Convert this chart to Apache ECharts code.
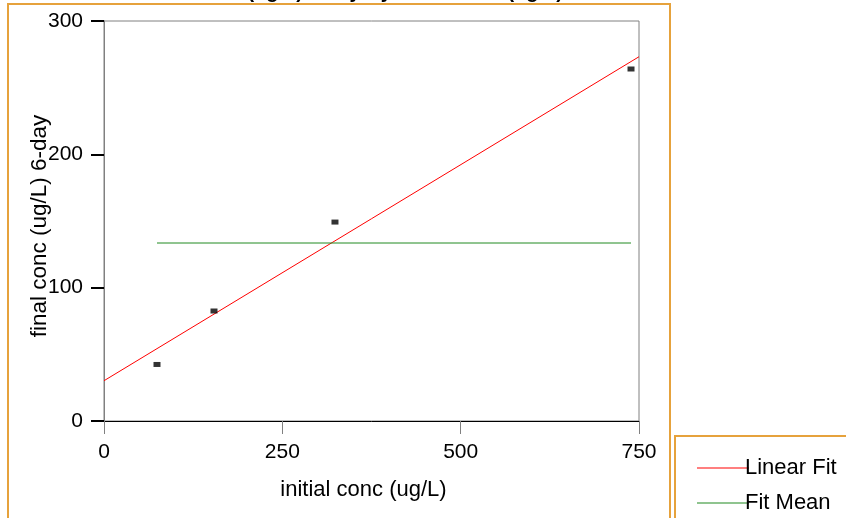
<!DOCTYPE html>
<html>
<head>
<meta charset="utf-8">
<script src="https://cdn.jsdelivr.net/npm/echarts@6/dist/echarts.min.js"></script>
<style>
html,body{margin:0;padding:0;background:#fff;}
#chart{width:846px;height:518px;}
</style>
</head>
<body>
<div id="chart"></div>
<script>
// Data
const titleText = 'Bivariate Fit of final conc (ug/L) 6-day By initial conc (ug/L)';
const xTicks = [0, 250, 500, 750];
const yTicks = [0, 100, 200, 300];
const initialConc = [74.3, 154.2, 323.8, 738.8];
const finalConc = [42.4, 82.5, 149.2, 264.0];
const linearFitX = [0, 750];
const linearFitY = [30.2, 273.2];
const fitMeanX = [74.3, 738.8];
const fitMeanY = [133.5, 133.5];

const FONT = '"Liberation Sans", Arial, sans-serif';
const RED = '#ff0000';
const GREEN = '#208a20';
const chart = echarts.init(document.getElementById('chart'));

const points = initialConc.map((x, i) => [x, finalConc[i]]);
const fitLine = linearFitX.map((x, i) => [x, linearFitY[i]]);
const meanLine = fitMeanX.map((x, i) => [x, fitMeanY[i]]);

const legendCommon = {
  orient: 'horizontal', left: 692,
  itemWidth: 52, itemHeight: 1,
  icon: 'rect',
  textStyle: { fontSize: 22, color: '#000', fontFamily: FONT, padding: [0, 0, 0, -9] }
};

chart.setOption({
  animation: false,
  backgroundColor: '#ffffff',
  textStyle: { fontFamily: FONT },
  grid: {
    left: 104, right: 207, top: 21, bottom: 97,
    show: true, borderColor: '#808080', borderWidth: 1
  },
  graphic: [
    {
      type: 'rect', z: 0, silent: true,
      shape: { x: 8, y: 4, width: 662, height: 530 },
      style: { fill: 'none', stroke: '#e6a23c', lineWidth: 2 }
    },
    {
      type: 'rect', z: 0, silent: true,
      shape: { x: 675, y: 436, width: 200, height: 120 },
      style: { fill: 'none', stroke: '#e6a23c', lineWidth: 2 }
    },
    {
      type: 'text', silent: true, left: 4, top: -18,
      style: { text: titleText, font: 'bold 20px ' + FONT, fill: '#000' }
    }
  ],
  legend: [
    Object.assign({}, legendCommon, { top: 452,
      data: [{ name: 'Linear Fit', itemStyle: { color: RED, borderWidth: 0 } }] }),
    Object.assign({}, legendCommon, { top: 487,
      data: [{ name: 'Fit Mean', itemStyle: { color: GREEN, borderWidth: 0 } }] })
  ],
  xAxis: {
    type: 'value', min: 0, max: 750, interval: 250,
    name: 'initial conc (ug/L)', nameLocation: 'middle', nameGap: 58,
    nameMoveOverlap: false,
    nameTextStyle: { fontSize: 22, color: '#000', fontFamily: FONT, padding: [0, 16, 0, 0] },
    axisLine: { show: true, onZero: false, lineStyle: { color: '#000', width: 1 } },
    axisTick: { show: true, inside: false, length: 13, lineStyle: { color: '#808080', width: 1 } },
    axisLabel: { fontSize: 21, color: '#000', margin: 21, fontFamily: FONT,
      formatter: v => xTicks.includes(v) ? String(v) : '' },
    splitLine: { show: false }
  },
  yAxis: {
    type: 'value', min: 0, max: 300, interval: 100,
    name: 'final conc (ug/L) 6-day', nameLocation: 'middle', nameGap: 53, nameRotate: 90,
    nameMoveOverlap: false,
    nameTextStyle: { fontSize: 22.5, color: '#000', fontFamily: FONT, padding: [0, 10, 0, 0] },
    axisLine: { show: true, onZero: false, lineStyle: { color: '#808080', width: 1 } },
    axisTick: { show: true, inside: false, length: 13, lineStyle: { color: '#000', width: 2 } },
    axisLabel: { fontSize: 21, color: '#000', margin: 21, fontFamily: FONT,
      formatter: v => yTicks.includes(v) ? String(v) : '' },
    splitLine: { show: false }
  },
  series: [
    {
      name: 'Linear Fit', type: 'line', data: fitLine,
      symbol: 'none', color: RED, itemStyle: { color: RED },
      lineStyle: { color: RED, width: 1 }, z: 3
    },
    {
      name: 'Fit Mean', type: 'line', data: meanLine,
      symbol: 'none', color: GREEN, itemStyle: { color: GREEN },
      lineStyle: { color: GREEN, width: 1 }, z: 3
    },
    {
      name: 'Data', type: 'scatter', data: points,
      symbol: 'rect', symbolSize: [7, 5],
      itemStyle: { color: '#000' }, z: 4
    }
  ]
});
</script>
</body>
</html>
